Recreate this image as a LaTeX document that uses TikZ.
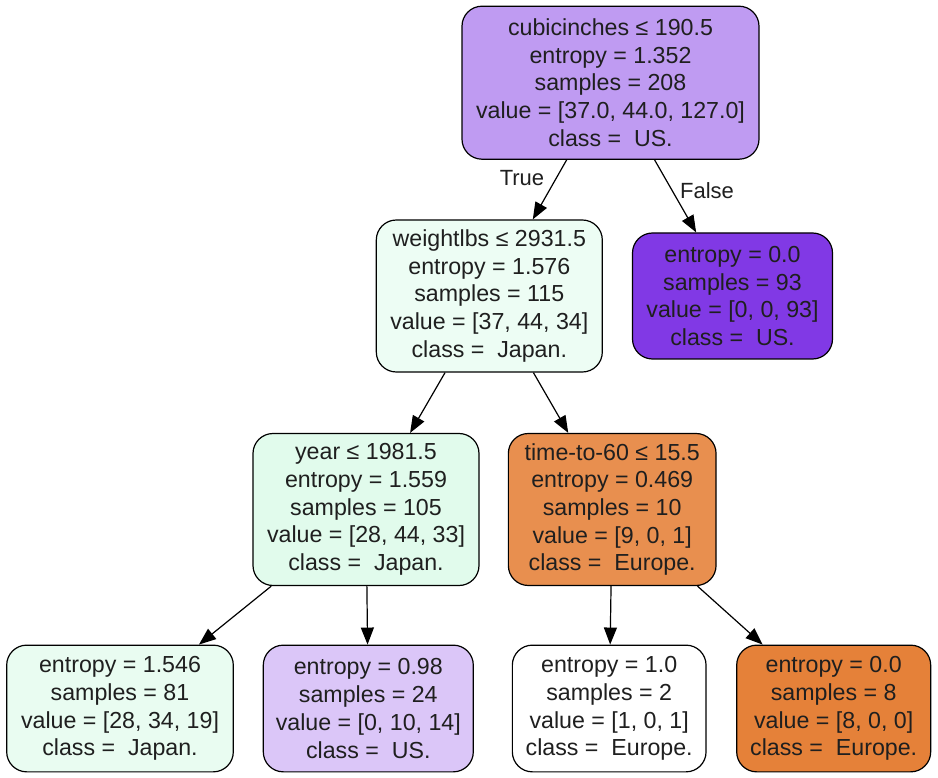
\documentclass[tikz,border=0pt]{standalone}
\usepackage{fontspec}
\setmainfont{Liberation Sans}
\usetikzlibrary{arrows.meta}
\definecolor{rootfill}{RGB}{191,155,242}
\definecolor{weightfill}{RGB}{237,253,244}
\definecolor{usfill}{RGB}{129,57,229}
\definecolor{yearfill}{RGB}{225,251,236}
\definecolor{timefill}{RGB}{232,143,79}
\definecolor{leafAfill}{RGB}{233,252,241}
\definecolor{leafBfill}{RGB}{219,198,248}
\definecolor{leafDfill}{RGB}{229,129,57}
\begin{document}
\begin{tikzpicture}[x=1pt,y=-1pt,
  treenode/.style={draw=black, line width=1.2pt, rounded corners=20pt,
    align=center, inner sep=0pt, text=black!88,
    font=\fontsize{23.2}{27.7}\selectfont},
  edge/.style={-{Triangle[length=17pt,width=13pt]}, line width=1.2pt},
  edgelabel/.style={font=\fontsize{22}{26}\selectfont, text=black!88}]
\useasboundingbox (0,0) rectangle (938,778);

% decision nodes
\node[treenode, fill=rootfill, minimum width=297pt, minimum height=153pt] (root) at (610.5,82.7)
  {cubicinches ≤ 190.5\\entropy = 1.352\\samples = 208\\value = [37.0, 44.0, 127.0]\\class = \ US.};
\node[treenode, fill=weightfill, minimum width=226pt, minimum height=152pt] (weight) at (489.3,296)
  {weightlbs ≤ 2931.5\\entropy = 1.576\\samples = 115\\value = [37, 44, 34]\\class = \ Japan.};
\node[treenode, fill=usfill, minimum width=200pt, minimum height=126pt] (us93) at (732.5,296)
  {entropy = 0.0\\samples = 93\\value = [0, 0, 93]\\class = \ US.};
\node[treenode, fill=yearfill, minimum width=226pt, minimum height=152pt] (year) at (366,509.5)
  {year ≤ 1981.5\\entropy = 1.559\\samples = 105\\value = [28, 44, 33]\\class = \ Japan.};
\node[treenode, fill=timefill, minimum width=207.7pt, minimum height=152pt] (time) at (612.2,509.5)
  {time-to-60 ≤ 15.5\\entropy = 0.469\\samples = 10\\value = [9, 0, 1]\\class = \ Europe.};

% leaves
\node[treenode, fill=leafAfill, minimum width=226.6pt, minimum height=126.7pt] (leafA) at (120,708.5)
  {entropy = 1.546\\samples = 81\\value = [28, 34, 19]\\class = \ Japan.};
\node[treenode, fill=leafBfill, minimum width=210pt, minimum height=126.7pt] (leafB) at (368.3,708.5)
  {entropy = 0.98\\samples = 24\\value = [0, 10, 14]\\class = \ US.};
\node[treenode, fill=white, minimum width=193.7pt, minimum height=126.7pt] (leafC) at (609.2,708.5)
  {entropy = 1.0\\samples = 2\\value = [1, 0, 1]\\class = \ Europe.};
\node[treenode, fill=leafDfill, minimum width=194pt, minimum height=126.7pt] (leafD) at (833.7,708.5)
  {entropy = 0.0\\samples = 8\\value = [8, 0, 0]\\class = \ Europe.};

% connectors
\draw[edge] (root) -- (weight);
\draw[edge] (root) -- (us93);
\draw[edge] (weight) -- (year);
\draw[edge] (weight) -- (time);
\draw[edge] (year) -- (leafA);
\draw[edge] (year) -- (leafB);
\draw[edge] (time) -- (leafC);
\draw[edge] (time) -- (leafD);

% branch labels
\node[edgelabel] (truelbl) at (522,178) {True};
\node[edgelabel] (falselbl) at (707,191) {False};
\end{tikzpicture}
\end{document}
